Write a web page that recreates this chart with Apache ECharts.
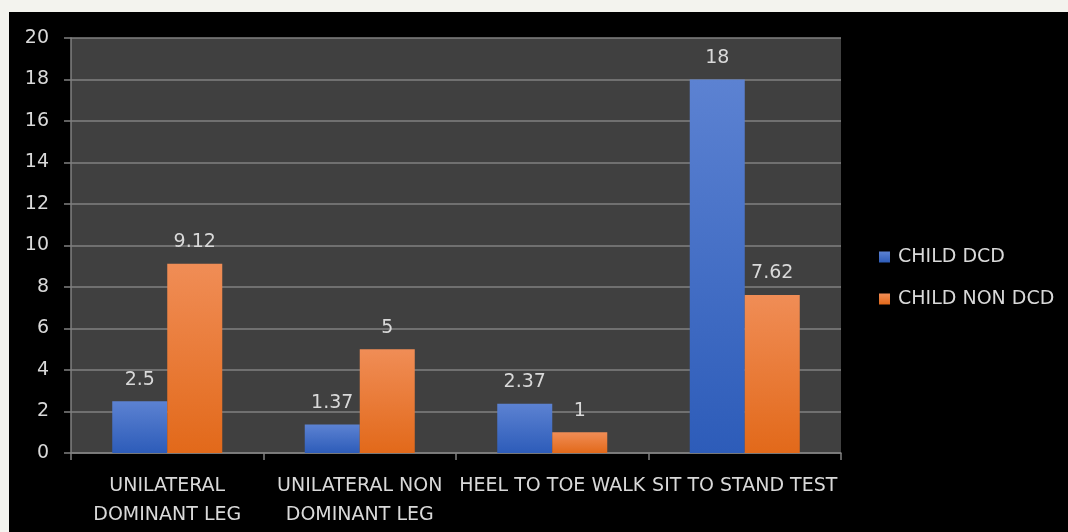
<!DOCTYPE html>
<html>
<head>
<meta charset="utf-8">
<script src="https://cdn.jsdelivr.net/npm/echarts@6/dist/echarts.min.js"></script>
<style>
  html, body { margin: 0; padding: 0; background: #f3f3ee; }
  #chart { position: absolute; left: 9px; top: 12px; width: 1059px; height: 520px; }
</style>
</head>
<body>
<div id="chart"></div>
<script>
const categories = [
  'UNILATERAL\nDOMINANT LEG',
  'UNILATERAL NON\nDOMINANT LEG',
  'HEEL TO TOE WALK',
  'SIT TO STAND TEST'
];
const childDcd = [2.5, 1.37, 2.37, 18];
const childNonDcd = [9.12, 5, 1, 7.62];

const textColor = '#d9d9d9';
const lineColor = '#808080';
const font = '"DejaVu Sans", sans-serif';

const grad = (top, bottom) => new echarts.graphic.LinearGradient(0, 0, 0, 1, [
  { offset: 0, color: top },
  { offset: 1, color: bottom }
]);

const chart = echarts.init(document.getElementById('chart'));

const options = {
  backgroundColor: '#000',
  animation: false,
  textStyle: { fontFamily: font },
  grid: {
    left: 62,
    top: 26,
    width: 770,
    height: 415,
    show: true,
    backgroundColor: '#404040',
    borderWidth: 0
  },
  legend: {
    orient: 'vertical',
    left: 865,
    top: 230,
    icon: 'rect',
    itemWidth: 11,
    itemHeight: 11,
    itemGap: 22,
    textStyle: { color: textColor, fontSize: 19, fontFamily: font, lineHeight: 20, padding: [0, 0, 0, 3] },
    data: ['CHILD DCD', 'CHILD NON DCD']
  },
  xAxis: {
    type: 'category',
    data: categories,
    axisLine: { show: true, lineStyle: { color: lineColor, width: 1.5 } },
    axisTick: { show: true, length: 7, lineStyle: { color: lineColor, width: 1.5 } },
    axisLabel: {
      color: textColor,
      fontSize: 19,
      fontFamily: font,
      lineHeight: 29,
      margin: 19,
      interval: 0
    }
  },
  yAxis: {
    type: 'value',
    min: 0,
    max: 20,
    interval: 2,
    axisLine: { show: true, lineStyle: { color: lineColor, width: 1.5 } },
    axisTick: { show: true, length: 7, lineStyle: { color: lineColor, width: 1.5 } },
    axisLabel: { color: textColor, fontSize: 19, fontFamily: font, margin: 22 },
    splitLine: { lineStyle: { color: lineColor, width: 1.5 } }
  },
  series: [
    {
      name: 'CHILD DCD',
      type: 'bar',
      data: childDcd,
      barWidth: 55,
      barGap: '0%',
      itemStyle: { color: grad('#5c82d2', '#2d5cb9') },
      label: {
        show: true,
        position: 'top',
        distance: 12,
        color: textColor,
        fontSize: 19,
        fontFamily: font
      }
    },
    {
      name: 'CHILD NON DCD',
      type: 'bar',
      data: childNonDcd,
      barWidth: 55,
      barGap: '0%',
      itemStyle: { color: grad('#f08d56', '#e2691a') },
      label: {
        show: true,
        position: 'top',
        distance: 12,
        color: textColor,
        fontSize: 19,
        fontFamily: font
      }
    }
  ]
};

chart.setOption(options);
</script>
</body>
</html>
